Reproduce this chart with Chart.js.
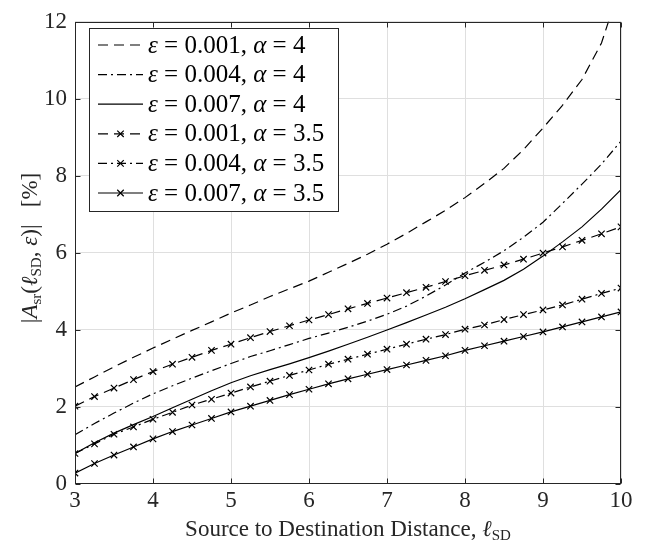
<!DOCTYPE html>
<html>
<head>
<meta charset="utf-8">
<script src="https://cdn.jsdelivr.net/npm/chart.js@4.4.1/dist/chart.umd.min.js"></script>
<style>
  html, body { margin: 0; padding: 0; background: #fff; }
  #wrap { width: 649px; height: 540px; }
</style>
</head>
<body>
<div id="wrap"><canvas id="c" width="649" height="540"></canvas></div>
<script>
// ---- data ----
const xVals = [3, 3.25, 3.5, 3.75, 4, 4.25, 4.5, 4.75, 5, 5.25, 5.5, 5.75, 6, 6.25, 6.5, 6.75, 7, 7.25, 7.5, 7.75, 8, 8.25, 8.5, 8.75, 9, 9.25, 9.5, 9.75, 10];

// alpha = 4 (plain lines)
const e001a4 = [2.51, 2.77, 3.03, 3.28, 3.52, 3.75, 3.98, 4.20, 4.43, 4.64, 4.86, 5.06, 5.26, 5.49, 5.72, 5.96, 6.22, 6.50, 6.80, 7.10, 7.43, 7.80, 8.19, 8.68, 9.24, 9.83, 10.50, 11.45, 13.0];
const e004a4 = [1.27, 1.56, 1.83, 2.09, 2.33, 2.54, 2.74, 2.93, 3.12, 3.30, 3.45, 3.61, 3.77, 3.91, 4.06, 4.22, 4.40, 4.61, 4.87, 5.16, 5.47, 5.75, 6.05, 6.40, 6.79, 7.28, 7.78, 8.30, 8.90];
const e007a4 = [0.78, 1.06, 1.31, 1.53, 1.74, 1.97, 2.19, 2.41, 2.62, 2.80, 2.96, 3.11, 3.27, 3.44, 3.62, 3.80, 3.99, 4.18, 4.38, 4.58, 4.80, 5.04, 5.28, 5.57, 5.91, 6.28, 6.67, 7.13, 7.64];

// alpha = 3.5 (lines with x markers)
const e001a35 = [2.01, 2.26, 2.48, 2.70, 2.91, 3.10, 3.28, 3.46, 3.62, 3.79, 3.95, 4.10, 4.25, 4.39, 4.54, 4.68, 4.82, 4.96, 5.10, 5.25, 5.40, 5.54, 5.68, 5.83, 5.99, 6.15, 6.32, 6.49, 6.67];
const e004a35 = [0.78, 1.03, 1.28, 1.47, 1.67, 1.85, 2.04, 2.19, 2.35, 2.51, 2.66, 2.81, 2.95, 3.10, 3.23, 3.36, 3.49, 3.62, 3.75, 3.87, 4.01, 4.12, 4.26, 4.39, 4.51, 4.64, 4.79, 4.94, 5.08];
const e007a35 = [0.27, 0.52, 0.74, 0.95, 1.16, 1.35, 1.52, 1.69, 1.86, 2.01, 2.16, 2.31, 2.45, 2.59, 2.72, 2.84, 2.96, 3.08, 3.20, 3.32, 3.46, 3.58, 3.70, 3.82, 3.94, 4.07, 4.20, 4.33, 4.46];

const epsLabels = ['0.001', '0.004', '0.007', '0.001', '0.004', '0.007'];
const alphaLabels = ['4', '4', '4', '3.5', '3.5', '3.5'];
const xTicks = [3, 4, 5, 6, 7, 8, 9, 10];
const yTicks = [0, 2, 4, 6, 8, 10, 12];

// ---- styles ----
const SERIF = "'Liberation Serif', 'DejaVu Serif', serif";
const AXIS = '#262626';
const DASH = [10, 6];
const DASHDOT = [9, 4, 2, 4];

function pts(arr) {
    return xVals.map((x, i) => ({ x: x, y: arr[i] }));
}

function series(arr, dash, marker) {
    return {
        data: pts(arr),
        borderColor: '#000',
        borderWidth: 1.2,
        borderDash: dash,
        fill: false,
        tension: 0,
        pointStyle: 'crossRot',
        pointRadius: marker ? 4.5 : 0,
        pointHoverRadius: 0,
        pointBorderColor: '#000',
        pointBorderWidth: 1.2,
        clip: 0
    };
}

const datasets = [
    series(e001a4, DASH, false),
    series(e004a4, DASHDOT, false),
    series(e007a4, [], false),
    series(e001a35, DASH, true),
    series(e004a35, DASHDOT, true),
    series(e007a35, [], true)
];

// box + inward ticks like matlab
const framePlugin = {
    id: 'frame',
    afterDatasetsDraw(chart) {
        const { ctx, chartArea: a, scales } = chart;
        const L = Math.round(a.left) + 0.5, R = Math.round(a.right) - 0.5;
        const T = Math.round(a.top) + 0.5, B = Math.round(a.bottom) - 0.5;
        ctx.save();
        ctx.strokeStyle = AXIS;
        ctx.lineWidth = 1;
        ctx.setLineDash([]);
        ctx.strokeRect(L, T, R - L, B - T);
        const tl = 5;
        ctx.beginPath();
        xTicks.forEach(v => {
            const px = Math.round(scales.x.getPixelForValue(v)) + 0.5;
            ctx.moveTo(px, B); ctx.lineTo(px, B - tl);
            ctx.moveTo(px, T); ctx.lineTo(px, T + tl);
        });
        yTicks.forEach(v => {
            const py = Math.round(scales.y.getPixelForValue(v)) + 0.5;
            ctx.moveTo(L, py); ctx.lineTo(L + tl, py);
            ctx.moveTo(R, py); ctx.lineTo(R - tl, py);
        });
        ctx.stroke();
        ctx.restore();
    }
};

// draws a run of text pieces, returns end x
function drawPieces(ctx, pieces, x, y, measureOnly) {
    let cx = x;
    pieces.forEach(p => {
        const size = p.size || 23;
        ctx.font = (p.italic ? 'italic ' : '') + size + 'px ' + SERIF;
        if (!measureOnly) ctx.fillText(p.t, cx, y + (p.dy || 0));
        cx += ctx.measureText(p.t).width;
    });
    return cx;
}

const titlesPlugin = {
    id: 'titles',
    afterDraw(chart) {
        const { ctx } = chart;
        ctx.save();
        ctx.fillStyle = AXIS;
        ctx.textBaseline = 'alphabetic';
        ctx.textAlign = 'left';

        // x title
        const xp = [
            { t: 'Source to Destination Distance, ' },
            { t: '\u2113', italic: true },
            { t: 'SD', size: 15, dy: 4 }
        ];
        const xw = drawPieces(ctx, xp, 0, 0, true);
        const cx = (chart.chartArea.left + chart.chartArea.right) / 2;
        drawPieces(ctx, xp, cx - xw / 2, 536);

        // y title
        const yp = [
            { t: '|' },
            { t: 'A', italic: true },
            { t: 'sr', size: 15, dy: 4 },
            { t: '(' },
            { t: '\u2113', italic: true },
            { t: 'SD', size: 15, dy: 4 },
            { t: ', ' },
            { t: '\u03b5', italic: true },
            { t: ')|' },
            { t: '   [%]' }
        ];
        const yw = drawPieces(ctx, yp, 0, 0, true);
        ctx.translate(37, 248);
        ctx.rotate(-Math.PI / 2);
        drawPieces(ctx, yp, -yw / 2, 0);
        ctx.restore();
    }
};

const legendPlugin = {
    id: 'mlLegend',
    afterDraw(chart) {
        const { ctx } = chart;
        const bx = 89.5, by = 28.5, bw = 249, bh = 183;
        ctx.save();
        ctx.fillStyle = '#fff';
        ctx.fillRect(bx, by, bw, bh);
        ctx.strokeStyle = AXIS;
        ctx.lineWidth = 1;
        ctx.setLineDash([]);
        ctx.strokeRect(bx, by, bw, bh);

        chart.data.datasets.forEach((ds, i) => {
            const yc = 45 + i * 29.6;
            const x0 = 98, x1 = 143;
            ctx.strokeStyle = '#000';
            ctx.lineWidth = ds.borderWidth;
            ctx.setLineDash(ds.borderDash);
            ctx.beginPath();
            ctx.moveTo(x0, yc); ctx.lineTo(x1, yc);
            ctx.stroke();
            ctx.setLineDash([]);
            if (ds.pointRadius > 0) {
                const r = ds.pointRadius * 0.72, mx = (x0 + x1) / 2;
                ctx.beginPath();
                ctx.moveTo(mx - r, yc - r); ctx.lineTo(mx + r, yc + r);
                ctx.moveTo(mx - r, yc + r); ctx.lineTo(mx + r, yc - r);
                ctx.stroke();
            }
            ctx.fillStyle = '#000';
            ctx.textBaseline = 'middle';
            ctx.textAlign = 'left';
            drawPieces(ctx, [
                { t: '\u03b5', italic: true, size: 25 },
                { t: ' = ' + epsLabels[i] + ', ', size: 25 },
                { t: '\u03b1', italic: true, size: 25 },
                { t: ' = ' + alphaLabels[i], size: 25 }
            ], 148, yc + 1);
        });
        ctx.restore();
    }
};

new Chart(document.getElementById('c'), {
    type: 'line',
    data: { datasets: datasets },
    options: {
        responsive: false,
        animation: false,
        events: [],
        layout: { padding: { top: 13, right: 28, left: 0, bottom: 0 } },
        plugins: { legend: { display: false }, tooltip: { enabled: false } },
        scales: {
            x: {
                type: 'linear',
                min: 3, max: 10,
                afterBuildTicks: s => { s.ticks = xTicks.map(v => ({ value: v })); },
                afterFit: s => { s.height = 56.5; },
                grid: { color: '#dfdfdf', drawTicks: false },
                border: { display: false },
                ticks: { padding: 4, color: AXIS, font: { family: SERIF, size: 23 } }
            },
            y: {
                min: 0, max: 12,
                afterBuildTicks: s => { s.ticks = yTicks.map(v => ({ value: v })); },
                afterFit: s => { s.width = 75; },
                grid: { color: '#dfdfdf', drawTicks: false },
                border: { display: false },
                ticks: { padding: 8, color: AXIS, font: { family: SERIF, size: 23 } }
            }
        }
    },
    plugins: [framePlugin, titlesPlugin, legendPlugin]
});
</script>
</body>
</html>
